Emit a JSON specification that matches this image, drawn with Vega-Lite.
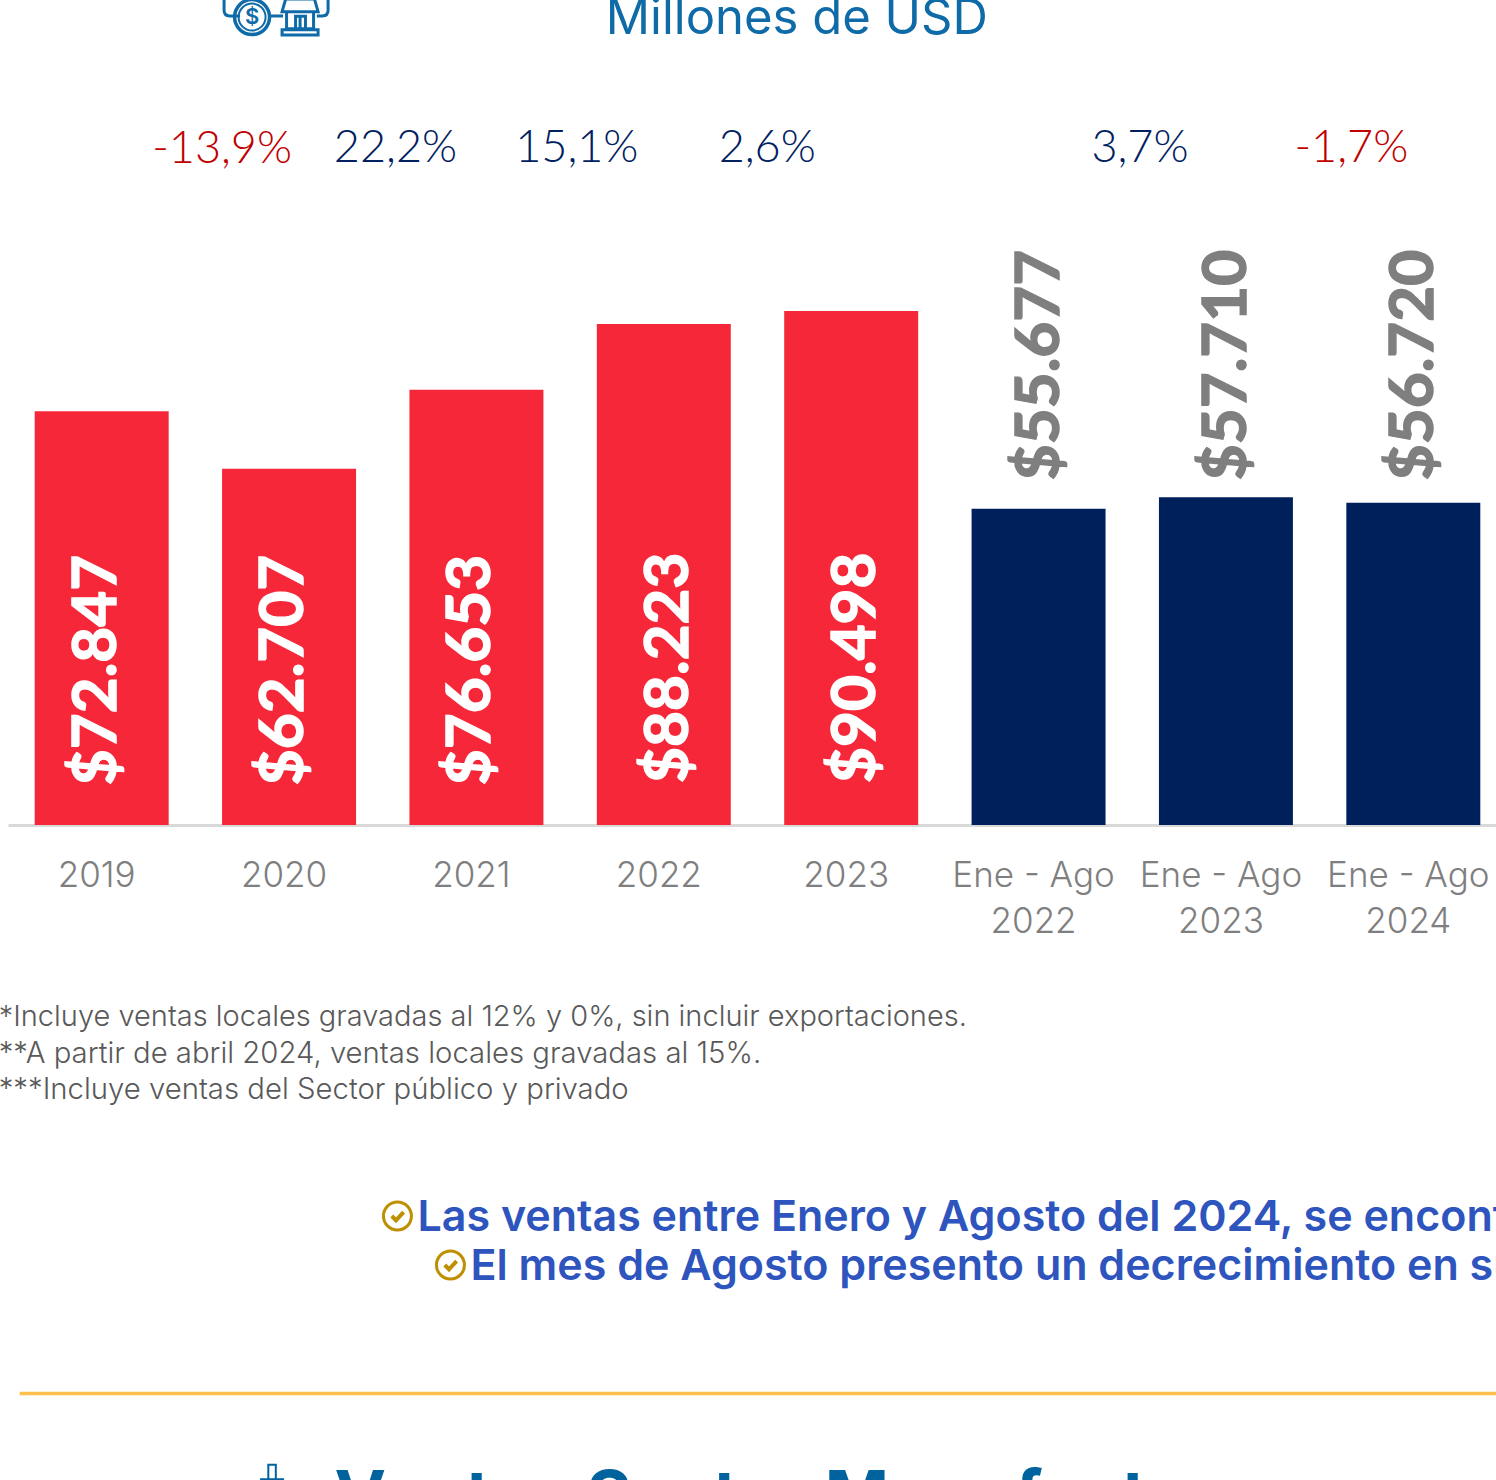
{
"$schema":"https://vega.github.io/schema/vega-lite/v6.json",
"autosize":{"type":"none"},
"padding":{"left":8,"top":0,"right":0,"bottom":655},
"width":1488,"height":825,
"background":"white",
"config":{"view":{"stroke":null}},
"data":{"values":[
{"periodo":"2019","ventas":72847,"etiqueta":"$72.847","tipo":"anual","grupo":"a"},
{"periodo":"2020","ventas":62707,"etiqueta":"$62.707","tipo":"anual","grupo":"a"},
{"periodo":"2021","ventas":76653,"etiqueta":"$76.653","tipo":"anual","grupo":"a"},
{"periodo":"2022","ventas":88223,"etiqueta":"$88.223","tipo":"anual","grupo":"b"},
{"periodo":"2023","ventas":90498,"etiqueta":"$90.498","tipo":"anual","grupo":"b"},
{"periodo":"Ene - Ago|2022","ventas":55677,"etiqueta":"$55.677","tipo":"parcial","grupo":"c"},
{"periodo":"Ene - Ago|2023","ventas":57710,"etiqueta":"$57.710","tipo":"parcial","grupo":"c"},
{"periodo":"Ene - Ago|2024","ventas":56720,"etiqueta":"$56.720","tipo":"parcial","grupo":"c"}
]},
"encoding":{
"x":{"field":"periodo","type":"nominal","title":null,
"sort":["2019","2020","2021","2022","2023","Ene - Ago|2022","Ene - Ago|2023","Ene - Ago|2024"],
"scale":{"domain":["2019","2020","2021","2022","2023","Ene - Ago|2022","Ene - Ago|2023","Ene - Ago|2024"],"range":[0,1499],"paddingInner":0.285,"paddingOuter":0.1425},
"axis":{"labelAngle":0,"ticks":false,"grid":false,"domainColor":"#d9d9d9","domainWidth":3,"labelColor":"#7f7f7f","labelFont":"Inter","labelFontWeight":300,"labelFontSize":35,"labelPadding":33,"labelOffset":-5,"labelLineHeight":46,"labelLimit":0,"labelOverlap":false,"labelExpr":"split(datum.label,'|')"}}
},
"layer":[
{"mark":{"type":"bar"},"encoding":{
"y":{"field":"ventas","type":"quantitative","title":null,"axis":null,"scale":{"domain":[0,145254],"nice":false,"zero":false}},
"color":{"field":"tipo","type":"nominal","legend":null,"scale":{"domain":["anual","parcial"],"range":["#f52738","#00205c"]}}}},
{"transform":[{"filter":"datum.grupo==='a'"}],"mark":{"type":"text","font":"Lato","fontWeight":700,"fontSize":62,"color":"white","stroke":"white","strokeWidth":1.5,"angle":270,"align":"left","baseline":"middle","dy":-5},"encoding":{"y":{"datum":7000,"type":"quantitative"},"text":{"field":"etiqueta"}}},
{"transform":[{"filter":"datum.grupo==='b'"}],"mark":{"type":"text","font":"Lato","fontWeight":700,"fontSize":62,"color":"white","stroke":"white","strokeWidth":1.5,"angle":270,"align":"left","baseline":"middle","dy":5},"encoding":{"y":{"datum":7400,"type":"quantitative"},"text":{"field":"etiqueta"}}},
{"transform":[{"filter":"datum.grupo==='c'"}],"mark":{"type":"text","font":"Lato","fontWeight":700,"fontSize":62,"color":"#7f7f7f","stroke":"#7f7f7f","strokeWidth":1.5,"angle":270,"align":"left","baseline":"middle","dy":1},"encoding":{"y":{"datum":60700,"type":"quantitative"},"text":{"field":"etiqueta"}}},

{"data":{"values":[{"periodo":"2020","variacion":"-13,9%"}]},"mark":{"type":"text","font":"Lato","fontWeight":300,"fontSize":45,"color":"#c00000","dx":-67},"encoding":{"y":{"datum":119000,"type":"quantitative"},"text":{"field":"variacion"}}},
{"data":{"values":[{"periodo":"2021","variacion":"22,2%"}]},"mark":{"type":"text","font":"Lato","fontWeight":300,"fontSize":45,"color":"#002060","dx":-81},"encoding":{"y":{"datum":119195,"type":"quantitative"},"text":{"field":"variacion"}}},
{"data":{"values":[{"periodo":"2022","variacion":"15,1%"}]},"mark":{"type":"text","font":"Lato","fontWeight":300,"fontSize":45,"color":"#002060","dx":-87},"encoding":{"y":{"datum":119195,"type":"quantitative"},"text":{"field":"variacion"}}},
{"data":{"values":[{"periodo":"2023","variacion":"2,6%"}]},"mark":{"type":"text","font":"Lato","fontWeight":300,"fontSize":45,"color":"#002060","dx":-84},"encoding":{"y":{"datum":119195,"type":"quantitative"},"text":{"field":"variacion"}}},
{"data":{"values":[{"periodo":"Ene - Ago|2023","variacion":"3,7%"}]},"mark":{"type":"text","font":"Lato","fontWeight":300,"fontSize":45,"color":"#002060","dx":-86},"encoding":{"y":{"datum":119195,"type":"quantitative"},"text":{"field":"variacion"}}},
{"data":{"values":[{"periodo":"Ene - Ago|2024","variacion":"-1,7%"}]},"mark":{"type":"text","font":"Lato","fontWeight":300,"fontSize":45,"color":"#c00000","dx":-62},"encoding":{"y":{"datum":119195,"type":"quantitative"},"text":{"field":"variacion"}}},

{"data":{"values":[{"periodo":"2022","texto":"Millones de USD"}]},"mark":{"type":"text","font":"Inter","fontWeight":400,"fontSize":49,"color":"#0f6ba8","dx":133,"dy":1},"encoding":{"y":{"datum":142085,"type":"quantitative"},"text":{"field":"texto"}}},

{"data":{"values":[{"periodo":"2019","texto":"*Incluye ventas locales gravadas al 12% y 0%, sin incluir exportaciones."}]},"mark":{"type":"text","font":"Inter","fontWeight":300,"fontSize":29,"color":"#595959","align":"left","dx":-103,"dy":1},"encoding":{"y":{"datum":-33629,"type":"quantitative"},"text":{"field":"texto"}}},
{"data":{"values":[{"periodo":"2019","texto":"**A partir de abril 2024, ventas locales gravadas al 15%."}]},"mark":{"type":"text","font":"Inter","fontWeight":300,"fontSize":29.3,"color":"#595959","align":"left","dx":-103,"dy":1},"encoding":{"y":{"datum":-40143,"type":"quantitative"},"text":{"field":"texto"}}},
{"data":{"values":[{"periodo":"2019","texto":"***Incluye ventas del Sector público y privado"}]},"mark":{"type":"text","font":"Inter","fontWeight":300,"fontSize":29.3,"color":"#595959","align":"left","dx":-103,"dy":1},"encoding":{"y":{"datum":-46482,"type":"quantitative"},"text":{"field":"texto"}}},

{"data":{"values":[{"periodo":"2021","texto":"Las ventas entre Enero y Agosto del 2024, se encontraron por debajo"}]},"mark":{"type":"text","font":"Inter","fontWeight":600,"fontSize":43,"color":"#2e54bd","align":"left","dx":-59,"dy":2},"encoding":{"y":{"datum":-68841,"type":"quantitative"},"text":{"field":"texto"}}},
{"data":{"values":[{"periodo":"2021","texto":"El mes de Agosto presento un decrecimiento en sus ventas"}]},"mark":{"type":"text","font":"Inter","fontWeight":600,"fontSize":43,"color":"#2e54bd","align":"left","dx":-6,"dy":2},"encoding":{"y":{"datum":-77469,"type":"quantitative"},"text":{"field":"texto"}}},
{"data":{"values":[{"periodo":"2021"}]},"mark":{"type":"point","shape":"circle","filled":false,"size":784,"strokeWidth":3,"color":"#bf8f00","opacity":1,"xOffset":-79},"encoding":{"y":{"datum":-68841,"type":"quantitative"}}},
{"data":{"values":[{"periodo":"2021"}]},"mark":{"type":"point","shape":"M-0.6,0 L-0.15,0.45 L0.65,-0.4","filled":false,"size":361,"strokeWidth":4,"color":"#bf8f00","opacity":1,"xOffset":-79},"encoding":{"y":{"datum":-68841,"type":"quantitative"}}},
{"data":{"values":[{"periodo":"2021"}]},"mark":{"type":"point","shape":"circle","filled":false,"size":784,"strokeWidth":3,"color":"#bf8f00","opacity":1,"xOffset":-26},"encoding":{"y":{"datum":-77469,"type":"quantitative"}}},
{"data":{"values":[{"periodo":"2021"}]},"mark":{"type":"point","shape":"M-0.6,0 L-0.15,0.45 L0.65,-0.4","filled":false,"size":361,"strokeWidth":4,"color":"#bf8f00","opacity":1,"xOffset":-26},"encoding":{"y":{"datum":-77469,"type":"quantitative"}}},

{"data":{"values":[{"periodo":"2019","fin":"Ene - Ago|2024"}]},"mark":{"type":"rule","color":"#ffc04d","strokeWidth":3.5,"xOffset":-82,"x2Offset":90},"encoding":{"y":{"datum":-100100,"type":"quantitative"},"x2":{"field":"fin"}}},

{"data":{"values":[{"periodo":"2021","texto":"Ventas Sector Manufactura"}]},"mark":{"type":"text","font":"Inter","fontWeight":700,"fontSize":69,"color":"#00639e","align":"left","baseline":"alphabetic","dx":-142},"encoding":{"y":{"datum":-122365,"type":"quantitative"},"text":{"field":"texto"}}},
{"data":{"values":[{"periodo":"2020"}]},"mark":{"type":"point","shape":"M-0.25,-0.9 H0.25 V0.07 H-0.25 Z M-0.8,0.07 H0.8","filled":false,"size":900,"strokeWidth":2,"color":"#00639e","opacity":1,"xOffset":-17},"encoding":{"y":{"datum":-115000,"type":"quantitative"}}},

{"data":{"values":[{"periodo":"2020"}]},"mark":{"type":"point","shape":"circle","filled":false,"size":1225,"strokeWidth":3.5,"color":"#0f6ba8","opacity":1,"xOffset":-37},"encoding":{"y":{"datum":142254,"type":"quantitative"}}},
{"data":{"values":[{"periodo":"2020"}]},"mark":{"type":"point","shape":"circle","filled":false,"size":729,"strokeWidth":2,"color":"#0f6ba8","opacity":1,"xOffset":-37},"encoding":{"y":{"datum":142254,"type":"quantitative"}}},
{"data":{"values":[{"periodo":"2020","s":"$"}]},"mark":{"type":"text","font":"Inter","fontWeight":600,"fontSize":22,"color":"#0f6ba8","dx":-37},"encoding":{"y":{"datum":142254,"type":"quantitative"},"text":{"field":"s"}}},
{"data":{"values":[{"periodo":"2020"}]},"mark":{"type":"point","shape":"M-1,-0.3 H1 L0.8,-1 H-0.8 Z M-0.75,-0.3 V0.65 H0.75 V-0.3 M-1,0.7 H1 V1 H-1 Z M-0.25,0.65 V-0.05 H0.3 V0.65 M0,-0.05 V0.65","filled":false,"size":1296,"strokeWidth":3,"color":"#0f6ba8","opacity":1,"xOffset":11},"encoding":{"y":{"datum":142254,"type":"quantitative"}}},
{"data":{"values":[{"periodo":"2020"}]},"mark":{"type":"point","shape":"M-1,-1 V0.3 C-1,0.8 -0.7,1 -0.3,1 H1","filled":false,"size":256,"strokeWidth":3,"color":"#0f6ba8","opacity":1,"xOffset":-57},"encoding":{"y":{"datum":143850,"type":"quantitative"}}},
{"data":{"values":[{"periodo":"2020"}]},"mark":{"type":"point","shape":"M1,-1 V0.3 C1,0.8 0.7,1 0.3,1 H-0.4","filled":false,"size":256,"strokeWidth":3,"color":"#0f6ba8","opacity":1,"xOffset":31},"encoding":{"y":{"datum":143850,"type":"quantitative"}}},
{"data":{"values":[{"periodo":"2020"}]},"mark":{"type":"point","shape":"M-1,0 H1","filled":false,"size":196,"strokeWidth":3,"color":"#0f6ba8","opacity":1,"xOffset":-13},"encoding":{"y":{"datum":142440,"type":"quantitative"}}}
]
}
